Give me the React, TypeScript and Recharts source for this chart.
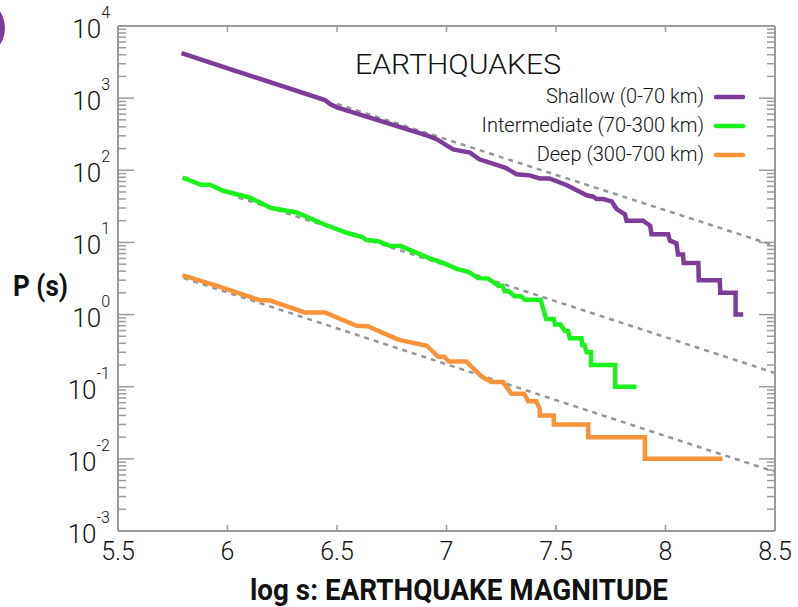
import { LineChart, Line, XAxis, YAxis, Customized } from "recharts";

// Cumulative frequency of earthquakes by magnitude, three depth classes
const shallowMag = [5.79, 6.445, 6.47, 6.5, 6.92, 6.955, 7.03, 7.107, 7.15, 7.27, 7.32, 7.38, 7.426, 7.47, 7.55, 7.64, 7.67, 7.685, 7.715, 7.754, 7.777, 7.815, 7.822, 7.898, 7.93, 7.936, 8.012, 8.02, 8.05, 8.057, 8.08, 8.083, 8.15, 8.152, 8.248, 8.25, 8.32, 8.32, 8.355];
const shallowP = [4200, 940, 820, 745, 297, 270, 195, 176, 142, 108, 88, 85, 77, 77, 62, 45, 43, 40, 40, 37, 29, 24.5, 20, 20, 17, 13, 13, 10.6, 9.7, 6.8, 6.8, 5.2, 5.2, 3.0, 3.0, 2.0, 2.0, 1.0, 1.0];

const interMag = [5.795, 5.88, 5.92, 5.98, 6.1, 6.2, 6.316, 6.437, 6.544, 6.612, 6.635, 6.688, 6.74, 6.79, 6.848, 6.924, 6.985, 7.046, 7.1, 7.145, 7.19, 7.236, 7.255, 7.266, 7.285, 7.31, 7.34, 7.36, 7.43, 7.455, 7.49, 7.495, 7.52, 7.54, 7.555, 7.563, 7.616, 7.62, 7.63, 7.64, 7.66, 7.66, 7.77, 7.77, 7.868];
const interP = [79, 63, 63, 52, 42, 30, 26, 18, 13.6, 12, 10.8, 10.4, 9.0, 8.9, 7.5, 6.0, 5.2, 4.3, 3.9, 3.2, 3.17, 2.5, 2.5, 2.1, 2.1, 1.8, 1.8, 1.6, 1.6, 0.87, 0.87, 0.73, 0.73, 0.59, 0.59, 0.47, 0.47, 0.38, 0.38, 0.3, 0.3, 0.2, 0.2, 0.1, 0.1];

const deepMag = [5.795, 5.935, 6.148, 6.19, 6.353, 6.445, 6.59, 6.64, 6.78, 6.91, 6.962, 6.99, 7.01, 7.09, 7.16, 7.205, 7.258, 7.297, 7.355, 7.373, 7.41, 7.426, 7.426, 7.49, 7.49, 7.647, 7.647, 7.906, 7.906, 8.26];
const deepP = [3.5, 2.6, 1.58, 1.58, 1.07, 1.07, 0.7, 0.69, 0.45, 0.37, 0.26, 0.26, 0.224, 0.224, 0.139, 0.116, 0.116, 0.08, 0.08, 0.063, 0.063, 0.049, 0.04, 0.04, 0.03, 0.03, 0.02, 0.02, 0.01, 0.01];

// Gutenberg-Richter fits (slope -1)
const shallowFitMag = [6.5, 8.5];
const shallowFitP = [830, 9];
const interFitMag = [6.05, 8.5];
const interFitP = [42, 0.155];
const deepFitMag = [5.8, 8.5];
const deepFitP = [3.2, 0.0066];

const seriesNames = ["Shallow (0-70 km)", "Intermediate (70-300 km)", "Deep (300-700 km)"];
const seriesColors = ["#7D3C98", "#1AF21E", "#F7943A"];

const xTicks = [5.5, 6, 6.5, 7, 7.5, 8, 8.5];
const decades = [-3, -2, -1, 0, 1, 2, 3];
const yTicks = [
  ...decades.flatMap((d) => [1, 2, 3, 4, 5, 6, 7, 8, 9].map((k) => Number((k * Math.pow(10, d)).toPrecision(3)))),
  10000,
];

const FONT = "Roboto, 'DejaVu Sans', sans-serif";
const FRAME = "#9a9a9a";
const FIT = "#959595";

const toPoints = (mag: number[], p: number[]) => mag.map((m, i) => ({ mag: m, p: p[i] }));

const isMajor = (v: number) => {
  const e = Math.log10(v);
  return Math.abs(e - Math.round(e)) < 1e-6;
};

function YTick(props: any) {
  const { x, y, payload, side } = props;
  const v = payload.value;
  const major = isMajor(v);
  const len = major ? 16 : 8;
  const dir = side === "left" ? 1 : -1;
  return (
    <g>
      <line x1={x} x2={x + dir * len} y1={y} y2={y} stroke={FRAME} strokeWidth={1.5} />
      {side === "left" && major && (
        <text x={x - 8} y={y + 12} textAnchor="end" fontFamily={FONT} fontWeight={300} fontSize={26} fill="#111">
          10
          <tspan dy={-20} fontSize={16}>{Math.round(Math.log10(v))}</tspan>
        </text>
      )}
    </g>
  );
}

function XTick(props: any) {
  const { x, y, payload, side } = props;
  const dir = side === "bottom" ? -1 : 1;
  return (
    <g>
      <line x1={x} x2={x} y1={y} y2={y + dir * 6} stroke={FRAME} strokeWidth={1.5} />
      {side === "bottom" && (
        <text x={x} y={y + 29} textAnchor="middle" fontFamily={FONT} fontWeight={300} fontSize={25} fill="#111">
          {payload.value}
        </text>
      )}
    </g>
  );
}

function Annotations() {
  return (
    <g fontFamily={FONT} fill="#111">
      <text x={355} y={74} fontSize={28} fontWeight={300} textLength={206} lengthAdjust="spacingAndGlyphs">
        EARTHQUAKES
      </text>
      {seriesNames.map((name, i) => (
        <g key={name}>
          <text x={704} y={103 + i * 29} textAnchor="end" fontSize={20} fontWeight={300}>
            {name}
          </text>
          <line x1={716} x2={743} y1={97 + i * 29} y2={97 + i * 29} stroke={seriesColors[i]} strokeWidth={4.5} strokeLinecap="round" />
        </g>
      ))}
      <text x={13} y={296} fontSize={29} fontWeight={700} textLength={55} lengthAdjust="spacingAndGlyphs">
        P (s)
      </text>
      <text x={250} y={600} fontSize={29} fontWeight={700} textLength={418} lengthAdjust="spacingAndGlyphs">
        log s: EARTHQUAKE MAGNITUDE
      </text>
    </g>
  );
}

export default function App() {
  const lineProps = {
    dataKey: "p",
    dot: false,
    activeDot: false,
    isAnimationActive: false,
    legendType: "none" as const,
  };
  // axes are 1px wide so that the frame lines sit exactly on the plot edges
  const yAxisCommon = {
    type: "number" as const,
    scale: "log" as const,
    domain: [0.001, 10000],
    allowDataOverflow: true,
    ticks: yTicks,
    interval: 0 as const,
    width: 1,
    tickSize: 0,
    tickMargin: 0,
    tickLine: false,
    axisLine: { stroke: FRAME, strokeWidth: 2 },
  };
  const xAxisCommon = {
    type: "number" as const,
    domain: [5.5, 8.5],
    allowDataOverflow: true,
    ticks: xTicks,
    interval: 0 as const,
    height: 1,
    tickSize: 0,
    tickMargin: 0,
    tickLine: false,
    axisLine: { stroke: FRAME, strokeWidth: 2 },
  };

  return (
    <div style={{ position: "absolute", left: 0, top: 0, width: 798, height: 607, overflow: "hidden", background: "#fff" }}>
      <div
        style={{
          position: "absolute",
          left: -55,
          top: -2,
          width: 60,
          height: 60,
          borderRadius: "50%",
          background: seriesColors[0],
        }}
      />
      <LineChart width={798} height={607} margin={{ top: 25, right: 22, bottom: 75, left: 117 }}>
        <XAxis xAxisId="b" dataKey="mag" orientation="bottom" {...xAxisCommon} tick={<XTick side="bottom" />} />
        <XAxis xAxisId="t" dataKey="mag" orientation="top" {...xAxisCommon} tick={<XTick side="top" />} />
        <YAxis yAxisId="l" dataKey="p" orientation="left" {...yAxisCommon} tick={<YTick side="left" />} />
        <YAxis yAxisId="r" dataKey="p" orientation="right" {...yAxisCommon} tick={<YTick side="right" />} />

        <Line {...lineProps} xAxisId="b" yAxisId="l" data={toPoints(shallowFitMag, shallowFitP)} stroke={FIT} strokeWidth={2.5} strokeDasharray="5 5" />
        <Line {...lineProps} xAxisId="b" yAxisId="l" data={toPoints(interFitMag, interFitP)} stroke={FIT} strokeWidth={2.5} strokeDasharray="5 5" />
        <Line {...lineProps} xAxisId="b" yAxisId="l" data={toPoints(deepFitMag, deepFitP)} stroke={FIT} strokeWidth={2.5} strokeDasharray="5 5" />

        <Line {...lineProps} xAxisId="b" yAxisId="l" data={toPoints(shallowMag, shallowP)} stroke={seriesColors[0]} strokeWidth={4.5} />
        <Line {...lineProps} xAxisId="b" yAxisId="l" data={toPoints(interMag, interP)} stroke={seriesColors[1]} strokeWidth={4.5} />
        <Line {...lineProps} xAxisId="b" yAxisId="l" data={toPoints(deepMag, deepP)} stroke={seriesColors[2]} strokeWidth={4.5} />

        <Customized component={Annotations} />
      </LineChart>
    </div>
  );
}
